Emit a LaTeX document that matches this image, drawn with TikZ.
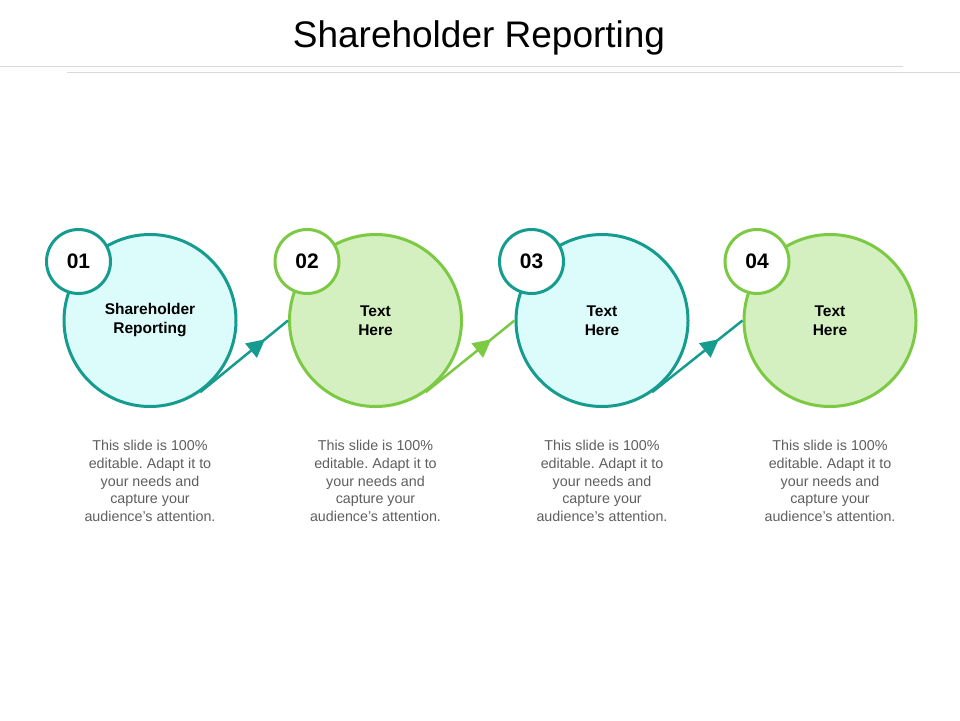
\documentclass[tikz,border=0pt]{standalone}
\usepackage{fontspec}
\setmainfont{Liberation Sans}[Ligatures=ResetAll]
\usetikzlibrary{arrows.meta,decorations.markings}
\definecolor{teal1}{HTML}{169C8F}
\definecolor{tealfill}{HTML}{DCFBFB}
\definecolor{green1}{HTML}{7CC943}
\definecolor{greenfill}{HTML}{D5F0C0}
\definecolor{rule}{HTML}{D9D9D9}
\definecolor{bodygray}{HTML}{5F5F5F}
\frenchspacing
\newcommand{\bodyblurb}{This slide is 100\%\\editable. Adapt it to\\your needs and\\capture your\\audience's attention.}
\tikzset{
  bigc/.style={circle, line width=3pt, minimum size=172pt, inner sep=0pt, align=center,
    font=\fontsize{15.5}{19}\selectfont\bfseries},
  smallc/.style={circle, line width=3pt, minimum size=64pt, inner sep=0pt, fill=white,
    font=\fontsize{21}{24}\selectfont\bfseries},
  bodytxt/.style={align=center, text=bodygray, font=\fontsize{14.3}{17.7}\selectfont},
  flow/.style={line width=2.5pt, postaction={decorate},
    decoration={markings, mark=at position 0.74 with {\arrow[#1]{Triangle[length=18pt,width=18pt]}}}},
}
\begin{document}
\begin{tikzpicture}[x=1pt,y=-1pt]
\useasboundingbox (0,0) rectangle (960,720);
\fill[white] (0,0) rectangle (960,720);
\node[anchor=base, font=\fontsize{37}{40}\selectfont] (title) at (479,47) {Shareholder Reporting};
\coordinate (r1a) at (0,66); \coordinate (r1b) at (903,66);
\coordinate (r2a) at (67,72); \coordinate (r2b) at (960,72);
\draw[rule, line width=1pt] (r1a) -- (r1b);
\draw[rule, line width=1pt] (r2a) -- (r2b);

\node[bigc, draw=teal1, fill=tealfill] (c1) at (150,320.5) {Shareholder\\Reporting};
\node[bigc, draw=green1, fill=greenfill] (c2) at (375.5,320.5) {Text\\Here};
\node[bigc, draw=teal1, fill=tealfill] (c3) at (602,320.5) {Text\\Here};
\node[bigc, draw=green1, fill=greenfill] (c4) at (830,320.5) {Text\\Here};

\draw[flow=teal1, teal1] (c1.-55) -- (c2.180);
\draw[flow=green1, green1] (c2.-55) -- (c3.180);
\draw[flow=teal1, teal1] (c3.-55) -- (c4.180);

\node[smallc, draw=teal1] (n1) at (78.5,261.5) {01};
\node[smallc, draw=green1] (n2) at (307,261.5) {02};
\node[smallc, draw=teal1] (n3) at (531.5,261.5) {03};
\node[smallc, draw=green1] (n4) at (757,261.5) {04};

\node[bodytxt] (t1) at (150,481) {\bodyblurb};
\node[bodytxt] (t2) at (375.5,481) {\bodyblurb};
\node[bodytxt] (t3) at (602,481) {\bodyblurb};
\node[bodytxt] (t4) at (830,481) {\bodyblurb};
\end{tikzpicture}
\end{document}
